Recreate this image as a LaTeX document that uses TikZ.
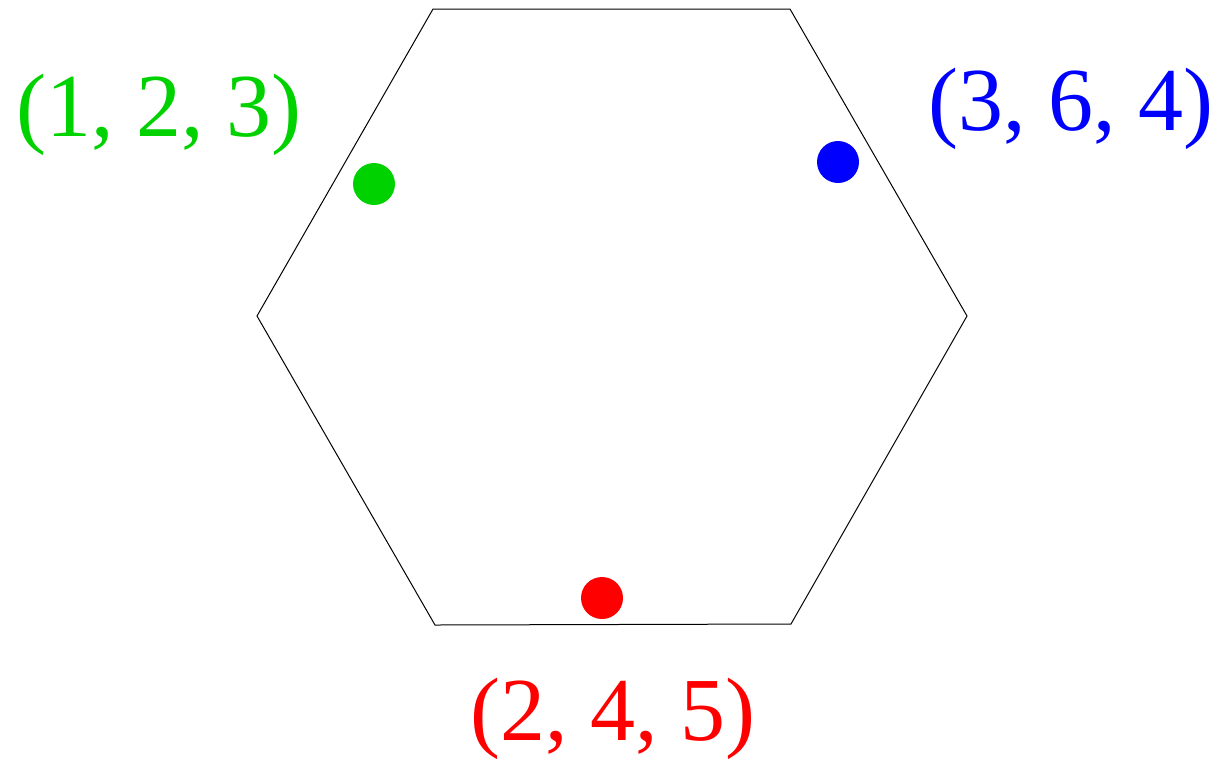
\documentclass[tikz,border=0pt]{standalone}
\usepackage{fontspec}
\setmainfont{Liberation Serif}
\definecolor{ptgreen}{RGB}{0,210,0}
\definecolor{ptblue}{RGB}{0,0,255}
\definecolor{ptred}{RGB}{255,0,0}
\begin{document}
\begin{tikzpicture}[x=0.5pt, y=-0.5pt,
  every node/.style={font=\fontsize{45}{50}\selectfont},
  dot/.style={circle, inner sep=0pt, minimum size=21pt}]
  \useasboundingbox (0,0) rectangle (1224,761);
  % hexagon
  \coordinate (h1) at (433,9);
  \coordinate (h2) at (790,9);
  \coordinate (h3) at (967,316);
  \coordinate (h4) at (791,624);
  \coordinate (h5) at (435,625);
  \coordinate (h6) at (257,316);
  \draw[line width=0.5pt] (h1) -- (h2) -- (h3) -- (h4) -- (h5) -- (h6) -- cycle;
  % points
  \node[dot, fill=ptgreen] (pg) at (374,184) {};
  \node[dot, fill=ptblue] (pb) at (838,162) {};
  \node[dot, fill=ptred] (pr) at (602,598) {};
  % labels
  \node[text=ptgreen] (lg) at (159,115) {(1, 2, 3)};
  \node[text=ptblue] (lb) at (1071,109) {(3, 6, 4)};
  \node[text=ptred] (lr) at (613,719) {(2, 4, 5)};
\end{tikzpicture}
\end{document}
